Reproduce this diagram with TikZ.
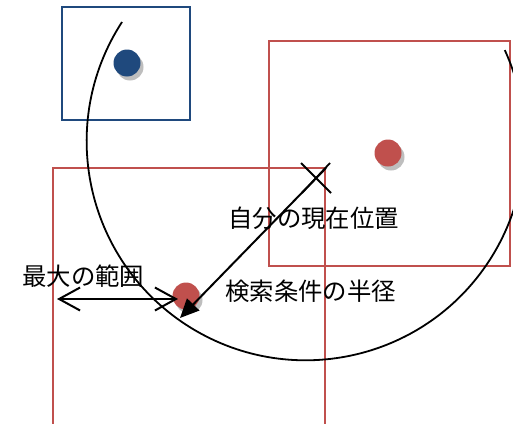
\documentclass[tikz,border=0pt]{standalone}
\usepackage{fontspec}
\newfontfamily\cjk{Noto Sans CJK JP}
\usetikzlibrary{arrows.meta}
\definecolor{myred}{RGB}{192,80,77}
\definecolor{myblue}{RGB}{31,73,125}
\definecolor{myshadow}{RGB}{190,190,190}
\begin{document}
\begin{tikzpicture}[x=1pt,y=-1pt,
  frame/.style={draw=#1,line width=2.4pt,inner sep=0pt,fill=none},
  dot/.style={circle,fill=#1,inner sep=0pt,minimum size=27pt},
  lbl/.style={anchor=west,inner sep=0pt,font=\cjk\fontsize{24.4}{28}\selectfont},
  curve/.style={line width=1.8pt,black},
  arr/.style={line width=2pt,black}]
\clip (0,0) rectangle (513,423);
\fill[white] (0,0) rectangle (513,423);
% shadows and dots
\fill[myshadow] (130,67) circle (13.5pt);
\fill[myshadow] (391,157) circle (13.5pt);
\fill[myshadow] (189,300) circle (13.5pt);
\node[dot=myblue] (bd) at (127,63) {};
\node[dot=myred] (rd) at (388,153) {};
\node[dot=myred] (ld) at (186,296) {};
% frames
\node[frame=myblue,minimum width=128pt,minimum height=113pt] (bf) at (126,63.5) {};
\node[frame=myred,minimum width=241pt,minimum height=225pt] (rf) at (389.5,153.5) {};
\node[frame=myred,minimum width=272pt,minimum height=272pt] (lf) at (189,304) {};
% big arc
\coordinate (arcstart) at (122,22);
\draw[curve] (arcstart) arc[start angle=147,end angle=384.6,radius=219pt];
% current position X
\coordinate (me) at (316,178);
\draw[curve] (me) +(-15,-15) -- +(15,15);
\draw[curve] (me) +(14,-15) -- +(-14,15);
% radius arrow
\coordinate (rstart) at (326,168);
\coordinate (rim) at (180,318);
\draw[arr,-{Triangle[length=19pt,width=17pt]}] (rstart) -- (rim);
% max range double arrow
\coordinate (mleft) at (57,299);
\coordinate (mright) at (178,299);
\draw[arr,{Straight Barb[length=21pt,width=23pt,line width=2pt]}-{Straight Barb[length=21pt,width=23pt,line width=2pt]}] (mleft) -- (mright);
% labels
\node[lbl] (t1) at (228,218) {自分の現在位置};
\node[lbl] (t2) at (22,276) {最大の範囲};
\node[lbl] (t3) at (225,291) {検索条件の半径};
\end{tikzpicture}
\end{document}
